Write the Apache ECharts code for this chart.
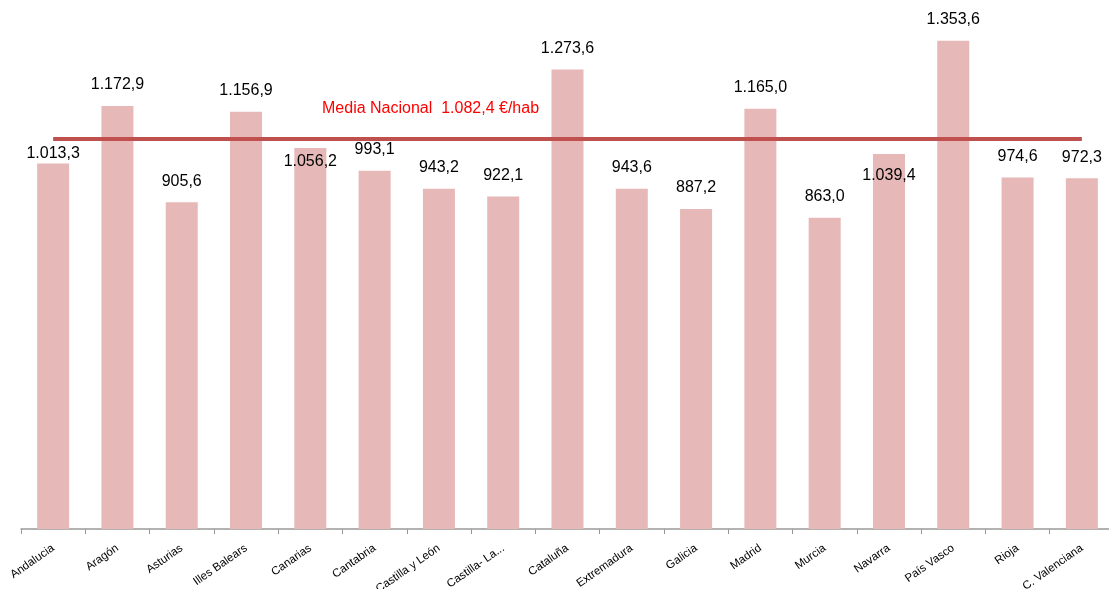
<!DOCTYPE html>
<html>
<head>
<meta charset="utf-8">
<script src="https://cdn.jsdelivr.net/npm/echarts@6/dist/echarts.min.js"></script>
<style>
  html, body { margin: 0; padding: 0; background: #fff; }
  #chart { width: 1109px; height: 589px; }
</style>
</head>
<body>
<div id="chart"></div>
<script>
// datos: gasto por habitante por comunidad
var categories = ["Andalucia", "Aragón", "Asturias", "Illes Balears", "Canarias", "Cantabria",
  "Castilla y León", "Castilla- La...", "Cataluña", "Extremadura", "Galicia", "Madrid",
  "Murcia", "Navarra", "País Vasco", "Rioja", "C. Valenciana"];
var values = [1013.3, 1172.9, 905.6, 1156.9, 1056.2, 993.1, 943.2, 922.1, 1273.6, 943.6,
  887.2, 1165.0, 863.0, 1039.4, 1353.6, 974.6, 972.3];
var mediaNacional = 1082.4;
var mediaTexto = "Media Nacional  1.082,4 €/hab";

// formato español: 1.234,5
function fmt(v) {
  var parts = v.toFixed(1).split(".");
  var ent = parts[0].replace(/\B(?=(\d{3})+(?!\d))/g, ".");
  return ent + "," + parts[1];
}

var fuente = "'Liberation Sans', Arial, sans-serif";

// algunas etiquetas estan movidas a mano en el original (desplazamiento vertical)
var ajusteEtiqueta = { 0: 11, 4: 35, 13: 43 };

var serieDatos = values.map(function (v, i) {
  var d = { value: v };
  if (ajusteEtiqueta[i] !== undefined) {
    d.label = { offset: [0, ajusteEtiqueta[i]] };
  }
  return d;
});

var myChart = echarts.init(document.getElementById("chart"));
var option = {
  animation: false,
  title: {
    text: mediaTexto,
    left: 317,
    top: 96,
    textStyle: { color: "#ff0000", fontSize: 16, fontWeight: "normal", fontFamily: fuente }
  },
  grid: { left: 21, width: 1093, top: 24, bottom: 60, outerBoundsMode: "none", containLabel: false },
  xAxis: {
    type: "category",
    data: categories,
    axisLine: { lineStyle: { color: "#999999", width: 1.5 } },
    axisTick: { show: true, length: 5, lineStyle: { color: "#999999" } },
    axisLabel: {
      interval: 0,
      rotate: 35,
      fontSize: 11.5,
      color: "#000",
      margin: 18,
      fontFamily: fuente
    }
  },
  yAxis: {
    type: "value",
    min: 0,
    max: 1400,
    show: false,
    splitLine: { show: false }
  },
  series: [
    {
      name: "Gasto",
      type: "bar",
      data: serieDatos,
      barWidth: 32,
      itemStyle: { color: "#e6b8b7" },
      label: {
        show: true,
        position: "top",
        distance: 13,
        fontSize: 16,
        color: "#000",
        fontFamily: fuente,
        formatter: function (p) { return fmt(p.value); }
      },
      markLine: {
        silent: true,
        symbol: "none",
        label: { show: false },
        lineStyle: { color: "#c0504d", width: 4, type: "solid" },
        data: [[
          { coord: [0, mediaNacional] },
          { coord: [categories.length - 1, mediaNacional] }
        ]]
      }
    }
  ]
};
myChart.setOption(option);
</script>
</body>
</html>
